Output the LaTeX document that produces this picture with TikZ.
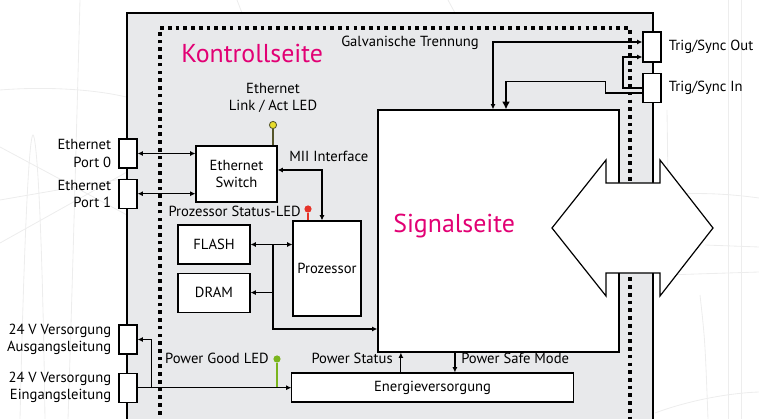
\documentclass[tikz,border=0pt]{standalone}
\usepackage{fontspec}
\setmainfont{PT Sans}
\usetikzlibrary{positioning, arrows.meta, calc}
\definecolor{kontrollmagenta}{HTML}{E20074}
\definecolor{gehaeusegrau}{HTML}{E8E9EB}
\definecolor{ledgelb}{HTML}{E8DC2A}
\definecolor{ledgruen}{HTML}{7AB51D}
\definecolor{ledrot}{HTML}{E63329}
\definecolor{ledstiel}{HTML}{55552A}
\definecolor{hintergrund}{HTML}{EDEDED}
\tikzset{
  block/.style={rectangle, draw=black, fill=white, line width=0.75pt, align=center, inner sep=0pt, font=\fontsize{10.4}{12.2}\selectfont},
  port/.style={rectangle, draw=black, fill=white, line width=0.85pt, minimum width=0.45cm, minimum height=0.725cm, inner sep=0pt},
  lbl/.style={inner sep=0pt, font=\fontsize{10.4}{12.2}\selectfont},
  seite/.style={inner sep=0pt, text=kontrollmagenta, font=\fontsize{18.4}{22}\selectfont},
  led/.style={circle, inner sep=0pt, minimum size=0.18cm},
  stem/.style={line width=1.3pt},
  trennung/.style={line width=2.7pt, dash pattern=on 2.6pt off 2.9pt},
  arrow/.style={line width=0.85pt, -{Latex[length=3.8pt,width=3.6pt]}},
  twoarrow/.style={line width=0.85pt, {Latex[length=3.8pt,width=3.6pt]}-{Latex[length=3.8pt,width=3.6pt]}}
}

\begin{document}
\begin{tikzpicture}[x=0.025cm, y=-0.025cm]
    \useasboundingbox (0,0) rectangle (759,419);

    % Hintergrundlinien
    \begin{scope}[color=hintergrund, line width=0.6pt]
        \draw (0,90) .. controls (50,86) and (100,90) .. (130,98);
        \draw (0,147) -- (127,215);
        \draw (0,200) -- (127,178);
        \draw (0,243) -- (127,172);
        \draw (80,0) .. controls (76,150) and (72,300) .. (68,419);
        \draw (20,419) .. controls (25,200) and (30,135) .. (33,135) .. controls (36,135) and (42,200) .. (45,419);
        \draw (237,0) -- (242,13);
        \draw (448,0) -- (455,13);
        \draw (728,0) -- (728,419);
        \draw (741,0) -- (741,419);
        \draw (667,110) -- (668,180);
        \draw (660,195) .. controls (700,192) and (730,194) .. (759,198);
        \draw (705,245) -- (759,247);
        \draw (665,275) -- (759,272);
        \draw (700,295) .. controls (705,340) .. (708,419);
        \draw (655,413) .. controls (690,400) and (730,393) .. (759,392);
    \end{scope}

    % Gehaeuse und galvanische Trennung
    \draw [fill=gehaeusegrau, line width=1.1pt] (127,13) rectangle (653,430);
    \draw [trennung] (160,430) -- (160,28) -- (630,28) -- (630,430);

    % Signalseite mit Doppelpfeil
    \node (sig) [draw, fill=white, line width=0.85pt, minimum width=6.025cm, minimum height=6.05cm, inner sep=0pt] at (498.5,231) {};
    \draw [fill=white, line width=0.85pt] (552,228) -- (606,160) -- (606,183) -- (660,183) -- (660,160) -- (713,228)
        -- (660,296) -- (660,273) -- (606,273) -- (606,296) -- cycle;
    \node (sigtext) [seite, anchor=base west] at (393,233) {Signalseite};
    \node (kontext) [seite, anchor=base west] at (181,63) {Kontrollseite};
    \node (trenntext) [lbl, anchor=base west] at (341,47) {Galvanische Trennung};

    % Bloecke
    \node (switch) [block, minimum width=2.025cm, minimum height=1.4cm] at (236.5,174) {Ethernet\\Switch};
    \node (proc) [block, minimum width=1.7cm, minimum height=2.375cm] at (327,268.5) {Prozessor};
    \node (flash) [block, minimum width=1.8cm, minimum height=0.975cm] at (214,244.5) {FLASH};
    \node (dram) [block, minimum width=1.8cm, minimum height=0.975cm, below=0.2cm of flash] {DRAM};
    \node (power) [block, minimum width=7.025cm, minimum height=0.725cm] at (432.5,387.5) {Energieversorgung};

    % Anschluesse
    \node (port0) [port] at (128,153.5) {};
    \node (port1) [port, below=0.25cm of port0] {};
    \node (vout) [port] at (128,339.5) {};
    \node (vin) [port, below=0.45cm of vout] {};
    \node (trigout) [port, minimum height=0.75cm] at (652,47) {};
    \node (trigin) [port, below=0.25cm of trigout] {};

    \node (port0text) [lbl, align=right, left=0.175cm of port0] {Ethernet\\Port 0};
    \node (port1text) [lbl, align=right, left=0.175cm of port1] {Ethernet\\Port 1};
    \node (vouttext) [lbl, align=right, left=0.175cm of vout] {24 V Versorgung\\Ausgangsleitung};
    \node (vintext) [lbl, align=right, left=0.175cm of vin] {24 V Versorgung\\Eingangsleitung};
    \node (trigouttext) [lbl, align=left, right=0.175cm of trigout] {Trig/Sync Out};
    \node (trigintext) [lbl, align=left, right=0.175cm of trigin] {Trig/Sync In};

    % LEDs
    \node (ethled) [led, draw=ledstiel, fill=ledgelb, line width=0.6pt] at (273,125) {};
    \node (statled) [led, fill=ledrot] at (308,209) {};
    \node (pgled) [led, fill=ledgruen] at (277,359) {};
    \draw [stem, ledstiel] (ethled) -- (ethled |- switch.north);
    \draw [stem, ledrot] (statled) -- (statled |- proc.north);
    \draw [stem, ledgruen] (pgled) -- (pgled |- vin.east);
    \node (ethledtext) [lbl, align=center] at (273,98) {Ethernet\\Link / Act LED};
    \node (statledtext) [lbl, anchor=base east] at (301,217) {Prozessor Status-LED};
    \node (pgledtext) [lbl, anchor=base east] at (269,364) {Power Good LED};

    % Ethernet und MII
    \draw [twoarrow] (port0.east) -- (port0.east -| switch.west);
    \draw [twoarrow] (port1.east) -- (port1.east -| switch.west);
    \draw [twoarrow] ([yshift=0.1cm]switch.east) -| ([xshift=-0.125cm]proc.north);
    \node (miitext) [lbl, anchor=base west] at (289,162) {MII Interface};

    % Speicherbus
    \coordinate (busx) at (273,329);
    \draw [twoarrow, line width=1.1pt] (flash.east) -- (flash.east -| proc.west);
    \draw [arrow, line width=1.1pt] (flash.east -| busx) -- (busx) -- (busx -| sig.west);
    \draw [arrow, line width=1.1pt] (dram.east -| busx) -- (dram.east);

    % Versorgung
    \draw [arrow] (vin.east) -- (vin.east -| power.west);
    \draw [arrow] ([xshift=0.35cm]vin.east) |- (vout.east);
    \coordinate (psx) at ([xshift=-0.79cm]power.north);
    \coordinate (psm) at ([xshift=0.56cm]power.north);
    \draw [arrow] (psx) -- (psx |- sig.south);
    \draw [arrow] (psm |- sig.south) -- (psm);
    \node (pstext) [lbl, anchor=base east] at (393,364) {Power Status};
    \node (psmtext) [lbl, anchor=base west] at (461,364) {Power Safe Mode};

    % Trigger
    \draw [twoarrow] ([xshift=-0.1375cm]sig.north) |- ([yshift=0.125cm]trigout.west);
    \draw [line width=0.85pt, -{Latex[length=5.5pt,width=5.5pt]}] ([yshift=-0.13cm]trigin.west) -- ++(-37,0) -- ++(0,-11.7) -| ([xshift=0.1875cm]sig.north);
    \draw [arrow, line width=1.5pt] (trigin.west) -- ++(-19,0) |- ([yshift=-0.25cm]trigout.west);
\end{tikzpicture}
\end{document}
